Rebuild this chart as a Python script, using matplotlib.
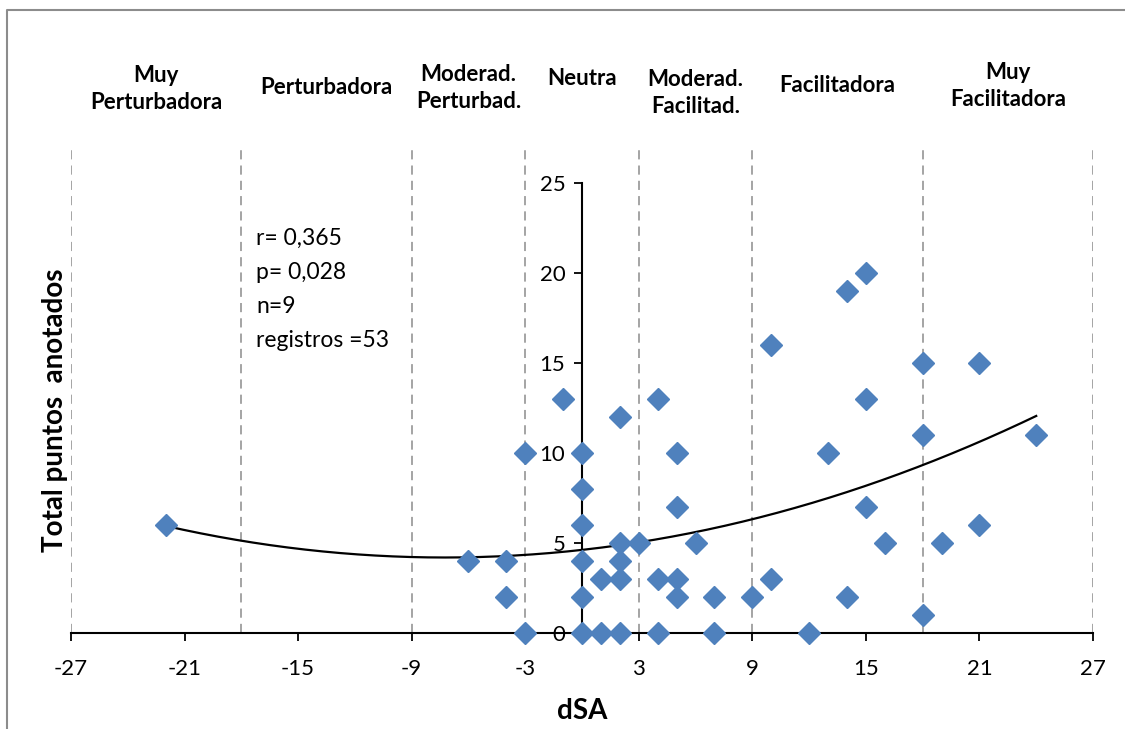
import numpy as np
import matplotlib
matplotlib.use("Agg")
import matplotlib.pyplot as plt
from matplotlib.lines import Line2D

# data
dsa = [-22, -6, -4, -4, -3, -3, -1, 0, 0, 0, 0, 0, 0, 1, 1, 2, 2, 2, 2, 2, 3,
       4, 4, 4, 5, 5, 5, 5, 6, 7, 7, 9, 10, 10, 12, 13, 14, 14, 15, 15, 15,
       16, 18, 18, 18, 19, 21, 21, 24]
puntos = [6, 4, 4, 2, 10, 0, 13, 10, 8, 6, 4, 2, 0, 3, 0, 12, 5, 4, 3, 0, 5,
          13, 3, 0, 10, 7, 3, 2, 5, 2, 0, 2, 16, 3, 0, 10, 19, 2, 20, 13, 7,
          5, 15, 11, 1, 5, 15, 6, 11]

zone_bounds = [-27, -18, -9, -3, 3, 9, 18, 27]
zone_names = ["Muy\nPerturbadora", "Perturbadora", "Moderad.\nPerturbad.", "Neutra",
              "Moderad.\nFacilitad.", "Facilitadora", "Muy\nFacilitadora"]
stats_lines = ["r= 0,365", "p= 0,028", "n=9", "registros =53"]
x_ticks = list(range(-27, 28, 6))
y_ticks = [0, 5, 10, 15, 20, 25]

# vertical centre (pixels from top) of each zone title, as placed in the original
title_y_px = [89, 87, 88, 78, 93, 85, 86]

plt.rcParams["font.family"] = ["Lato", "DejaVu Sans"]
plt.rcParams["axes.unicode_minus"] = False

W, H = 1125, 729
fig = plt.figure(figsize=(W / 100, H / 100), dpi=100)

# chart-area border (top and left only visible)
fig.lines.append(Line2D([7 / W, 7 / W, 1.0], [0.0, 1 - 10 / H, 1 - 10 / H],
                        transform=fig.transFigure, color="#8c8c8c", linewidth=1.5))

x0, x1 = 71, 1093
y0 = 633
ytop = y0 - 27 * 18
ax = fig.add_axes([x0 / W, 1 - y0 / H, (x1 - x0) / W, (y0 - ytop) / H])
ax.set_xlim(-27, 27)
ax.set_ylim(0, 27)
ax.patch.set_alpha(0)

# zone separators
for b in zone_bounds:
    ax.axvline(b, color="#8c8c8c", linestyle=(0, (6, 4)), linewidth=1.1, zorder=1)

# spines: x axis at y=0, y axis at x=0
for s in ["top", "right"]:
    ax.spines[s].set_visible(False)
ax.spines["left"].set_position(("data", 0))
ax.spines["left"].set_bounds(0, 25)
ax.spines["left"].set_linewidth(1.5)
ax.spines["bottom"].set_linewidth(1.5)
ax.set_xticks(x_ticks)
ax.set_yticks(y_ticks)
ax.tick_params(axis="both", direction="out", length=6, width=1.3, labelsize=16)
ax.tick_params(axis="x", pad=13)
ax.tick_params(axis="y", pad=6)

# quadratic trend
coef = np.polyfit(dsa, puntos, 2)
xt = np.linspace(min(dsa), max(dsa), 300)
ax.plot(xt, np.polyval(coef, xt), color="black", linewidth=1.6, zorder=2)

ax.plot(dsa, puntos, linestyle="none", marker="D", markersize=11,
        color="#4F81BD", markeredgecolor="#4F81BD", zorder=3, clip_on=False)

fig.text(582 / W, 1 - 711 / H, "dSA", fontsize=20, fontweight="bold",
         ha="center", va="center")
fig.text(55 / W, 1 - 410 / H, "Total puntos  anotados", rotation=90, fontsize=20,
         fontweight="bold", ha="center", va="center")

# zone names
for i, name in enumerate(zone_names):
    cx = (zone_bounds[i] + zone_bounds[i + 1]) / 2
    ty = (y0 - title_y_px[i]) / 18
    ax.text(cx, ty, name, ha="center", va="center", fontsize=16, fontweight="bold",
            linespacing=1.3)

for i, line in enumerate(stats_lines):
    ax.text(-17.2, 21.9 - i * 1.88, line, fontsize=16.5, ha="left", va="center")

fig.savefig("out.png", dpi=100)
